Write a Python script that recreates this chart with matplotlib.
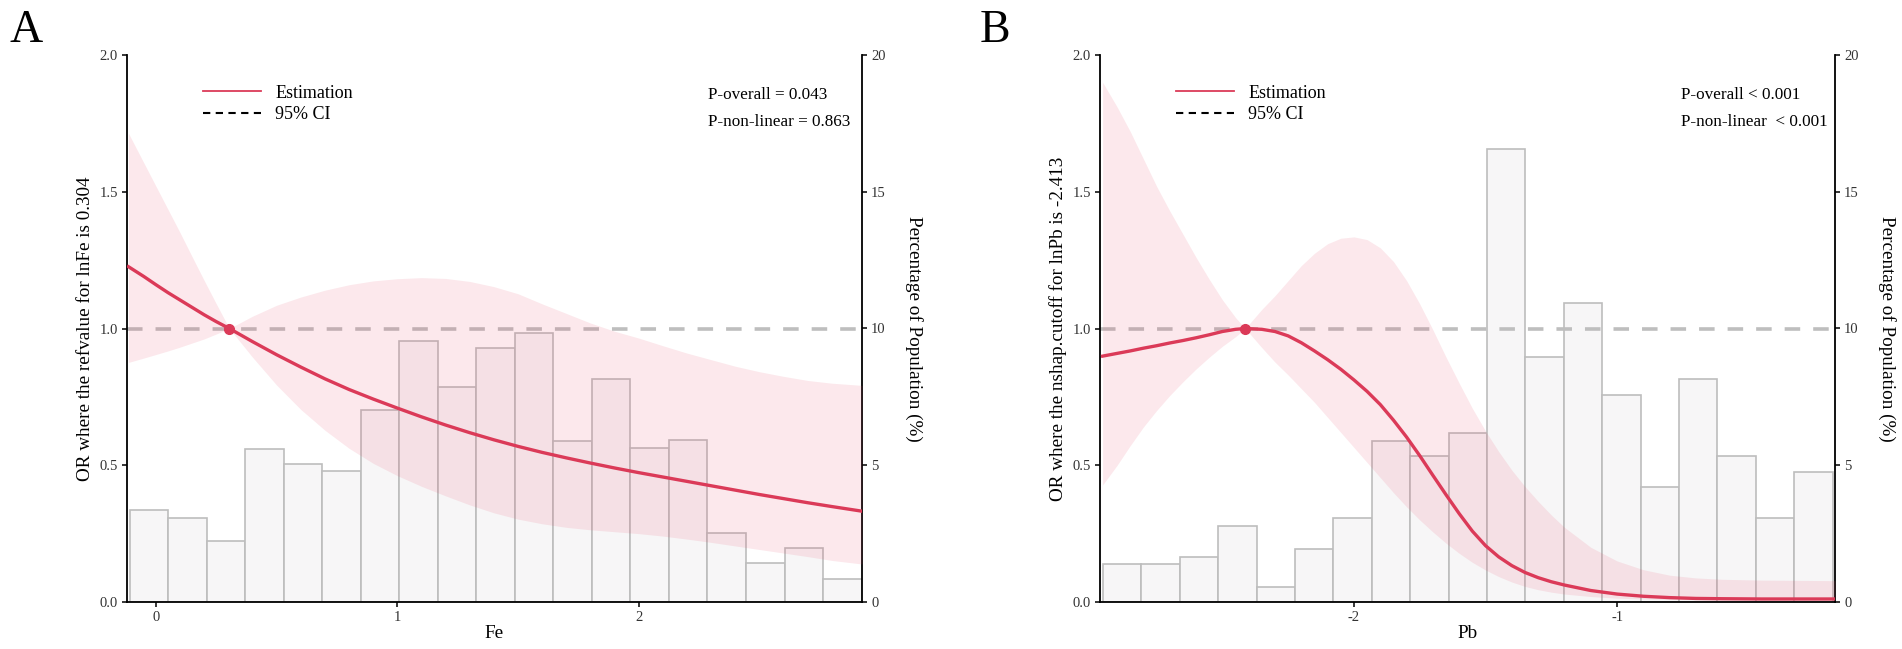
import numpy as np
import matplotlib
matplotlib.use("Agg")
import matplotlib.pyplot as plt
from matplotlib.lines import Line2D

plt.rcParams['font.family'] = ['Liberation Serif', 'DejaVu Serif']

# ---------------- Data: panel A (Fe) ----------------
A_ref = 0.304
A_xlim = (-0.12, 2.925)
A_hist_range = (-0.108, 2.923)
A_hist_pct = [3.37, 3.08, 2.24, 5.61, 5.06, 4.78, 7.03, 9.55, 7.86, 9.27,
              9.84, 5.90, 8.16, 5.64, 5.91, 2.54, 1.41, 1.96, 0.84]
A_x = [-0.114, -0.05, 0.0, 0.05, 0.1, 0.15, 0.2, 0.25, 0.304, 0.4, 0.5, 0.6, 0.7,
       0.8, 0.9, 1.0, 1.1, 1.2, 1.3, 1.4, 1.5, 1.6, 1.7, 1.8, 1.9, 2.0, 2.1, 2.2,
       2.3, 2.4, 2.5, 2.6, 2.7, 2.8, 2.925]
A_est = [1.226, 1.19, 1.16, 1.131, 1.104, 1.077, 1.05, 1.025, 1.0, 0.952, 0.904,
         0.859, 0.816, 0.777, 0.742, 0.709, 0.677, 0.647, 0.619, 0.593, 0.569,
         0.547, 0.527, 0.508, 0.490, 0.473, 0.457, 0.441, 0.425, 0.409, 0.393,
         0.378, 0.363, 0.349, 0.332]
A_upper = [1.714, 1.605, 1.52, 1.435, 1.35, 1.262, 1.175, 1.09, 1.0, 1.045, 1.085,
           1.115, 1.14, 1.16, 1.174, 1.182, 1.186, 1.183, 1.172, 1.153, 1.127,
           1.09, 1.055, 1.02, 0.99, 0.965, 0.937, 0.91, 0.886, 0.862, 0.842,
           0.825, 0.81, 0.80, 0.792]
A_lower = [0.876, 0.892, 0.905, 0.918, 0.932, 0.947, 0.962, 0.98, 1.0, 0.895, 0.793,
           0.704, 0.628, 0.562, 0.507, 0.462, 0.423, 0.388, 0.355, 0.326, 0.303,
           0.286, 0.273, 0.264, 0.257, 0.25, 0.241, 0.23, 0.218, 0.205, 0.192,
           0.179, 0.166, 0.152, 0.139]
A_xticks = [0, 1, 2]
A_xlabel = "Fe"
A_ylabel = "OR where the refvalue for lnFe is 0.304"
A_p = ["P-overall = 0.043", "P-non-linear = 0.863"]

# ---------------- Data: panel B (Pb) ----------------
B_ref = -2.413
B_xlim = (-2.965, -0.172)
B_hist_range = (-2.954, -0.181)
B_hist_pct = [1.39, 1.39, 1.66, 2.78, 0.54, 1.95, 3.08, 5.89, 5.32, 6.18,
              16.57, 8.97, 10.94, 7.56, 4.19, 8.15, 5.32, 3.06, 4.76]
B_x = [-2.955, -2.9, -2.85, -2.8, -2.75, -2.7, -2.65, -2.6, -2.55, -2.5, -2.45,
       -2.413, -2.35, -2.3, -2.25, -2.2, -2.15, -2.1, -2.05, -2.0, -1.95, -1.9,
       -1.85, -1.8, -1.75, -1.7, -1.65, -1.6, -1.55, -1.5, -1.45, -1.4, -1.35,
       -1.3, -1.25, -1.2, -1.1, -1.0, -0.9, -0.8, -0.7, -0.6, -0.45, -0.3, -0.172]
B_est = [0.899, 0.909, 0.918, 0.928, 0.937, 0.947, 0.956, 0.966, 0.977, 0.989,
         0.997, 1.0, 0.997, 0.989, 0.973, 0.948, 0.918, 0.886, 0.851, 0.812, 0.77,
         0.722, 0.665, 0.603, 0.535, 0.463, 0.392, 0.323, 0.259, 0.206, 0.165,
         0.133, 0.108, 0.089, 0.074, 0.062, 0.042, 0.029, 0.021, 0.016, 0.013,
         0.012, 0.011, 0.011, 0.011]
B_upper = [1.90, 1.81, 1.72, 1.62, 1.52, 1.43, 1.345, 1.26, 1.18, 1.105, 1.04, 1.0,
           1.07, 1.12, 1.175, 1.23, 1.275, 1.31, 1.33, 1.335, 1.325, 1.295, 1.245,
           1.175, 1.09, 0.995, 0.895, 0.80, 0.708, 0.625, 0.55, 0.482, 0.422,
           0.368, 0.318, 0.273, 0.2, 0.15, 0.118, 0.098, 0.088, 0.083, 0.08,
           0.079, 0.078]
B_lower = [0.428, 0.50, 0.572, 0.64, 0.70, 0.755, 0.805, 0.852, 0.895, 0.935, 0.97,
           1.0, 0.93, 0.877, 0.83, 0.78, 0.73, 0.675, 0.62, 0.565, 0.51, 0.455,
           0.40, 0.348, 0.30, 0.256, 0.215, 0.178, 0.145, 0.117, 0.093, 0.073,
           0.057, 0.045, 0.036, 0.029, 0.02, 0.014, 0.011, 0.009, 0.008, 0.008,
           0.008, 0.008, 0.008]
B_xticks = [-2, -1]
B_xlabel = "Pb"
B_ylabel = "OR where the nshap.cutoff for lnPb is -2.413"
B_p = ["P-overall < 0.001", "P-non-linear  < 0.001"]

yticks_left = [0.0, 0.5, 1.0, 1.5, 2.0]
yticks_right = [0, 5, 10, 15, 20]
right_label = "Percentage of Population (%)"
legend_labels = ["Estimation", "95% CI"]

RED = '#DB3A58'
BAND = '#E8506E'
TICKC = '#333333'

W, H = 1902, 649
fig = plt.figure(figsize=(W / 100, H / 100), dpi=100)


def panel(rect, xlim, hist_range, hist, x, est, lo, up, ref, xticks, xlabel, ylabel, ptexts):
    ax = fig.add_axes(rect)
    ax2 = ax.twinx()
    ax.set_zorder(ax2.get_zorder() + 1)
    ax.patch.set_visible(False)

    edges = np.linspace(hist_range[0], hist_range[1], len(hist) + 1)
    ax2.bar(edges[:-1], hist, width=np.diff(edges), align='edge',
            facecolor='#F7F6F7', edgecolor='#BDBDBD', linewidth=1.2)
    ax2.set_ylim(0, 20)
    ax2.set_yticks(yticks_right)
    ax2.set_yticklabels([str(v) for v in yticks_right])

    ax.axhline(1.0, color='#BEBEBE', lw=2.6, dashes=(4.3, 3.6), zorder=1)
    ax.fill_between(x, lo, up, color=BAND, alpha=0.13, lw=0, zorder=2)
    ax.plot(x, est, color=RED, lw=2.4, zorder=3, solid_joinstyle='round')
    ax.plot([ref], [1.0], 'o', color=RED, ms=7, zorder=4)

    ax.set_xlim(*xlim)
    ax.set_ylim(0, 2.0)
    ax.set_xticks(xticks)
    ax.set_xticklabels([str(v) for v in xticks])
    ax.set_yticks(yticks_left)
    ax.set_yticklabels(['%.1f' % v for v in yticks_left])

    for a in (ax, ax2):
        a.spines['top'].set_visible(False)
        for s in a.spines.values():
            s.set_linewidth(1.3)
            s.set_color('black')
        a.tick_params(direction='out', length=3.5, width=1.1, labelsize=10.5,
                      labelcolor=TICKC, pad=3)
    ax.spines['right'].set_visible(False)
    ax2.spines['left'].set_visible(False)
    ax2.spines['bottom'].set_visible(False)

    ax.set_xlabel(xlabel, fontsize=13.8, va='center')
    ax.xaxis.set_label_coords(0.5, -0.057)
    ax.set_ylabel(ylabel, fontsize=13.8, va='center', ha='center')
    ax.yaxis.set_label_coords(-0.057, 0.5)
    ax2.set_ylabel(right_label, fontsize=13.8, rotation=270, va='center', ha='center')
    ax2.yaxis.set_label_coords(1.071, 0.5)

    handles = [Line2D([], [], color=RED, lw=1.3),
               Line2D([], [], color='black', lw=1.5, dashes=(3.5, 2.6))]
    ax.legend(handles, legend_labels, loc='upper left',
              bbox_to_anchor=(76 / 735, 0.946), frameon=False, fontsize=13,
              handlelength=3.2, handletextpad=0.8, labelspacing=0.25,
              borderpad=0, borderaxespad=0)
    ax.text(0.79, 0.927, ptexts[0], fontsize=12.3, ha='left', va='center',
            transform=ax.transAxes)
    ax.text(0.79, 0.877, ptexts[1], fontsize=12.3, ha='left', va='center',
            transform=ax.transAxes)
    return ax


panel([127 / W, 47 / H, 735 / W, 547 / H], A_xlim, A_hist_range, A_hist_pct,
      A_x, A_est, A_lower, A_upper, A_ref, A_xticks, A_xlabel, A_ylabel, A_p)
panel([1100 / W, 47 / H, 735 / W, 547 / H], B_xlim, B_hist_range, B_hist_pct,
      B_x, B_est, B_lower, B_upper, B_ref, B_xticks, B_xlabel, B_ylabel, B_p)

fig.text(10 / W, 1 - 9 / H, "A", fontsize=33, ha='left', va='top')
fig.text(980 / W, 1 - 9 / H, "B", fontsize=33, ha='left', va='top')

fig.savefig("out.png", dpi=100)
